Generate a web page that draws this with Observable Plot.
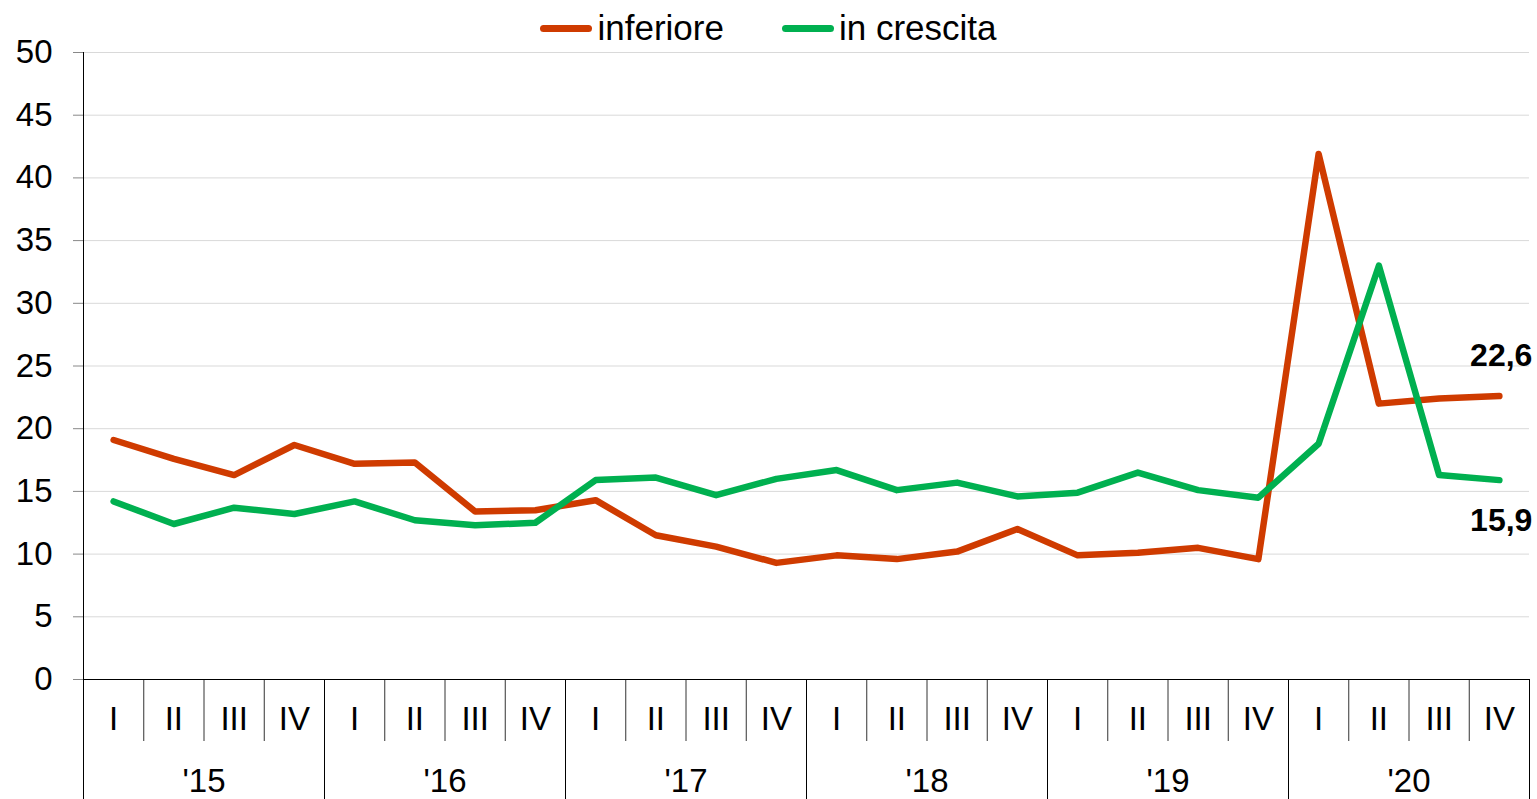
<!DOCTYPE html>
<html><head><meta charset="utf-8">
<script src="https://cdn.jsdelivr.net/npm/d3@7"></script>
<script src="https://cdn.jsdelivr.net/npm/@observablehq/plot@0.6"></script>
<style>
html,body{margin:0;padding:0;background:#fff;overflow:hidden;}
#legend{height:44px;box-sizing:border-box;padding-top:12px;display:flex;justify-content:center;align-items:flex-start;font-family:"Liberation Sans",Arial,sans-serif;font-size:35px;color:#000;}
.item{display:flex;align-items:center;height:32px;line-height:32px;}
.item + .item{margin-left:58px;}
.swatch{width:52px;height:7px;border-radius:3.5px;margin-right:5px;}
</style></head><body>
<div id="legend"></div><div id="chart"></div>
<script>
const quarters = ["I", "II", "III", "IV"];
const years = ["'15", "'16", "'17", "'18", "'19", "'20"];
const seriesNames = ["inferiore", "in crescita"];
const seriesColors = ["#CF3B00", "#00B050"];
const inferiore = [19.1, 17.6, 16.3, 18.7, 17.2, 17.3, 13.4, 13.5, 14.3, 11.5, 10.6, 9.3, 9.9, 9.6, 10.2, 12.0, 9.9, 10.1, 10.5, 9.6, 41.9, 22.0, 22.4, 22.6];
const inCrescita = [14.2, 12.4, 13.7, 13.2, 14.2, 12.7, 12.3, 12.5, 15.9, 16.1, 14.7, 16.0, 16.7, 15.1, 15.7, 14.6, 14.9, 16.5, 15.1, 14.5, 18.8, 33.0, 16.3, 15.9];
const yTicks = [0, 5, 10, 15, 20, 25, 30, 35, 40, 45, 50];

const periods = years.flatMap((y, yi) => quarters.map((q, qi) => ({year: y, quarter: q, pos: yi * 4 + qi + 0.5})));
const seriesValues = [inferiore, inCrescita];
const data = seriesNames.flatMap((s, si) => seriesValues[si].map((v, i) => ({series: s, pos: periods[i].pos, value: v})));
const lastPoints = seriesNames.map((s, si) => ({series: s, pos: periods[periods.length - 1].pos, value: seriesValues[si][seriesValues[si].length - 1]}));

// legend
const legend = document.getElementById("legend");
seriesNames.forEach((s, i) => {
  const it = document.createElement("div"); it.className = "item";
  const sw = document.createElement("div"); sw.className = "swatch"; sw.style.background = seriesColors[i];
  const tx = document.createElement("span"); tx.textContent = s;
  it.appendChild(sw); it.appendChild(tx); legend.appendChild(it);
});

const nQ = periods.length;
const quarterSeps = d3.range(1, nQ).filter(i => i % 4 !== 0);
const yearSeps = d3.range(0, nQ + 1, 4);
const yearCenters = years.map((y, i) => i * 4 + 2);
const fmt = d => String(d.value).replace(".", ",");

const chart = Plot.plot({
  width: 1537,
  height: 755,
  marginTop: 8,
  marginBottom: 120,
  marginLeft: 83,
  marginRight: 8,
  style: {fontFamily: '"Liberation Sans", Arial, sans-serif', fontSize: "33px", overflow: "visible", background: "white"},
  x: {domain: [0, nQ], axis: null},
  y: {domain: [0, 50], axis: null},
  color: {domain: seriesNames, range: seriesColors},
  marks: [
    Plot.gridY(yTicks.filter(d => d > 0), {stroke: "#d9d9d9", strokeOpacity: 1}),
    Plot.axisY(yTicks, {tickSize: 10, tickPadding: 21, stroke: "#888", fill: "black", fontSize: 33, label: null}),
    Plot.axisX(quarterSeps, {tickSize: 62, stroke: "#333", tickFormat: () => "", label: null}),
    Plot.axisX(yearSeps, {tickSize: 120, stroke: "black", tickFormat: () => "", label: null}),
    Plot.axisX(periods.map(d => d.pos), {tickSize: 0, tickPadding: 27, fontSize: 33, fill: "black", tickFormat: d => periods.find(p => p.pos === d).quarter, label: null}),
    Plot.axisX(yearCenters, {tickSize: 0, tickPadding: 89, fontSize: 33, fill: "black", tickFormat: d => years[(d - 2) / 4], label: null}),
    Plot.ruleX([0], {stroke: "black"}),
    Plot.ruleY([0], {stroke: "black"}),
    Plot.line(data, {x: "pos", y: "value", z: "series", stroke: "series", strokeWidth: 6.5}),
    Plot.text(lastPoints.slice(0, 1), {x: "pos", y: "value", text: fmt, textAnchor: "end", dx: 33, dy: -40, fontWeight: "bold", fontSize: 32, fill: "black"}),
    Plot.text(lastPoints.slice(1, 2), {x: "pos", y: "value", text: fmt, textAnchor: "end", dx: 33, dy: 41, fontWeight: "bold", fontSize: 32, fill: "black"})
  ]
});
document.getElementById("chart").appendChild(chart);
</script>
</body></html>
